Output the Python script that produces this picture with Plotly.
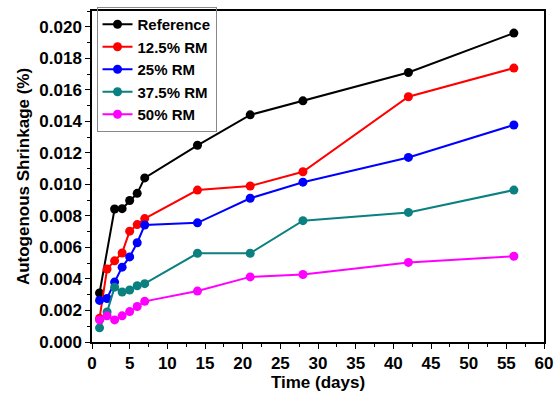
import plotly.graph_objects as go

days = [1, 2, 3, 4, 5, 6, 7, 14, 21, 28, 42, 56]
reference = [0.00311, None, 0.00844, 0.00846, 0.00898, 0.00943, 0.01041, 0.01248, 0.01441, 0.01530, 0.01710, 0.01960]
rm_12_5 = [0.00150, 0.00463, 0.00515, 0.00565, 0.00703, 0.00745, 0.00783, 0.00964, 0.00990, 0.01080, 0.01556, 0.01738]
rm_25 = [0.00264, 0.00276, 0.00380, 0.00475, 0.00540, 0.00630, 0.00742, 0.00756, 0.00912, 0.01014, 0.01171, 0.01377]
rm_37_5 = [0.00090, 0.00190, 0.00348, 0.00317, 0.00330, 0.00357, 0.00370, 0.00563, 0.00563, 0.00770, 0.00822, 0.00964]
rm_50 = [0.00140, 0.00166, 0.00140, 0.00166, 0.00193, 0.00225, 0.00258, 0.00323, 0.00413, 0.00428, 0.00505, 0.00544]

series = [
    ("Reference", reference, "#000000"),
    ("12.5% RM", rm_12_5, "#ff0000"),
    ("25% RM", rm_25, "#0000ff"),
    ("37.5% RM", rm_37_5, "#0a8080"),
    ("50% RM", rm_50, "#ff00ff"),
]

font_family = "Liberation Sans, Arial, sans-serif"

fig = go.Figure()
for name, vals, color in series:
    fig.add_trace(go.Scatter(
        x=days, y=vals, name=name, mode="lines+markers",
        connectgaps=True,
        line=dict(color=color, width=2),
        marker=dict(color=color, size=9, symbol="circle"),
    ))

axis_common = dict(
    showline=True, linecolor="black", linewidth=1.5, mirror=True,
    ticks="outside", ticklen=5, tickwidth=1.2, tickcolor="black",
    showgrid=False, zeroline=False,
    tickfont=dict(family=font_family, size=17, color="black", weight="bold"),
)

fig.update_xaxes(
    range=[0, 60], dtick=5, tick0=0,
    minor=dict(ticks="outside", ticklen=3, dtick=2.5, tickcolor="black", tickwidth=1),
    title=dict(text="Time (days)", font=dict(family=font_family, size=17, color="black", weight="bold"), standoff=3),
    **axis_common,
)
fig.update_yaxes(
    range=[0, 0.021], dtick=0.002, tick0=0, tickformat=".3f",
    minor=dict(ticks="outside", ticklen=3, dtick=0.001, tickcolor="black", tickwidth=1),
    title=dict(text="Autogenous Shrinkage (%)", font=dict(family=font_family, size=17, color="black", weight="bold"), standoff=5),
    **axis_common,
)

fig.update_layout(
    width=560, height=397,
    margin=dict(l=92, r=14, t=7, b=55),
    paper_bgcolor="white", plot_bgcolor="white",
    showlegend=True,
    legend=dict(
        x=0.01, y=1.012, xanchor="left", yanchor="top",
        bordercolor="#888888", borderwidth=1, bgcolor="rgba(255,255,255,0)",
        font=dict(family=font_family, size=15, color="black", weight="bold"),
        tracegroupgap=0,
    ),
)

fig.write_html("out.html")
